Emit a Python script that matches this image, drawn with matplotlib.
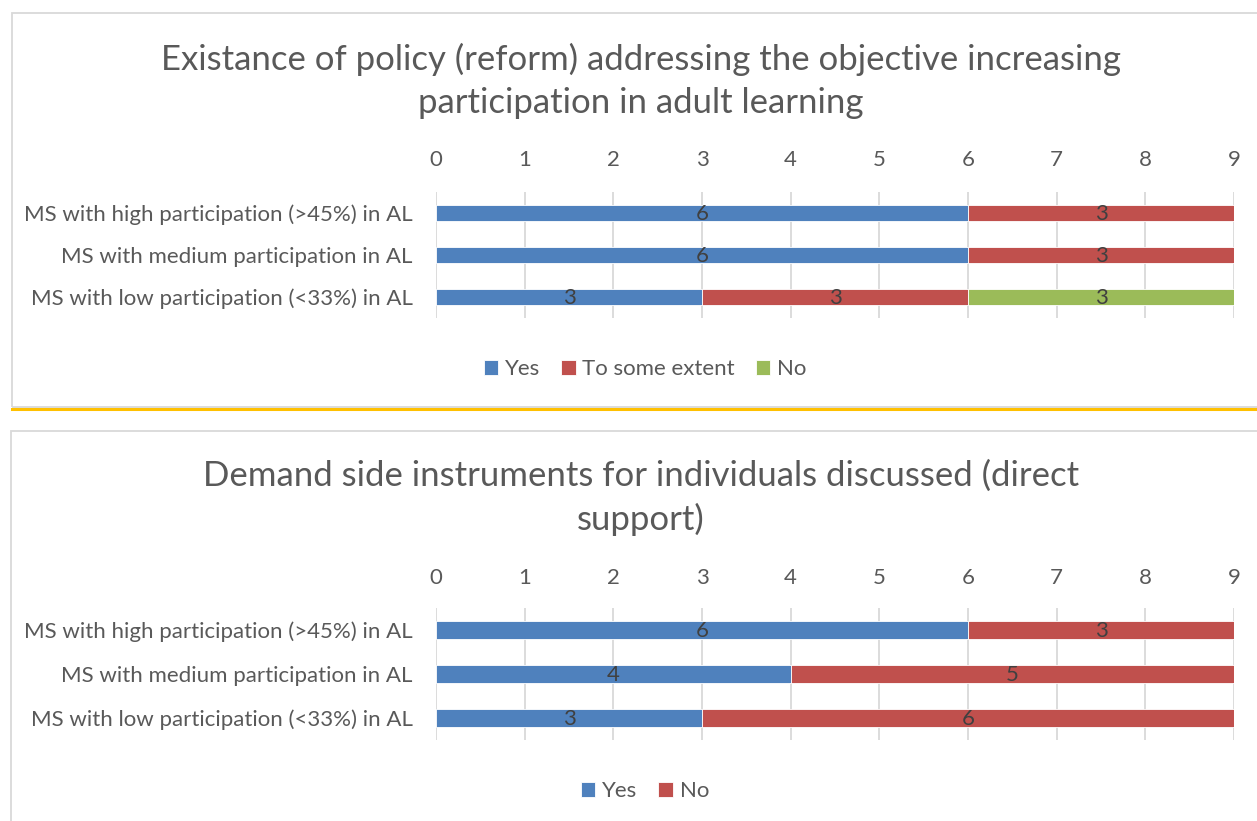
import matplotlib.pyplot as plt
from matplotlib.patches import Rectangle
from matplotlib.lines import Line2D
import numpy as np

plt.rcParams['font.family'] = ['Lato', 'DejaVu Sans']

# categories (top to bottom) and counts of member states
groups = ['MS with high participation (>45%) in AL',
          'MS with medium participation in AL',
          'MS with low participation (<33%) in AL']

policy_names = ['Yes', 'To some extent', 'No']
policy_yes = [6, 6, 3]
policy_some = [3, 3, 3]
policy_no = [0, 0, 3]

demand_names = ['Yes', 'No']
demand_yes = [6, 4, 3]
demand_no = [3, 5, 6]

ticks = list(range(0, 10))

blue = '#4F81BD'
red = '#C0504D'
green = '#9BBB59'
txt = '#595959'
W, H = 1257, 821
fs = 16


def fx(px):
    return px / W


def fy(py):
    return 1 - py / H


def draw_panel(fig, rect, title, series, names, colors, title_y, legend_y, tick_pad):
    l, t, r, b = rect
    ax = fig.add_axes([fx(l), fy(b), fx(r) - fx(l), fy(t) - fy(b)])
    y = np.arange(len(groups))
    left = np.zeros(len(groups))
    for vals, name, c in zip(series, names, colors):
        vals = np.array(vals, dtype=float)
        ax.barh(y, vals, left=left, height=0.39, color=c, edgecolor='#ffffff',
                linewidth=0.6, label=name, zorder=2)
        for yi, v, lf in zip(y, vals, left):
            if v > 0:
                ax.text(lf + v / 2, yi + 0.03, str(int(v)), ha='center', va='center',
                        fontsize=fs, color='#404040', zorder=3)
        left += vals
    ax.set_xlim(0, 9)
    ax.set_ylim(len(groups) - 0.5, -0.5)
    ax.set_yticks(y)
    ax.set_yticklabels(groups, fontsize=fs, color=txt)
    ax.set_xticks(ticks)
    ax.xaxis.tick_top()
    ax.tick_params(axis='x', length=0, pad=tick_pad, labelsize=fs, labelcolor=txt)
    ax.tick_params(axis='y', length=0, pad=17)
    for s in ax.spines.values():
        s.set_visible(False)
    ax.grid(axis='x', color='#D9D9D9', linewidth=1.3, zorder=0)
    ax.set_axisbelow(True)
    fig.text(fx(641), fy(title_y), title, ha='center', va='center',
             fontsize=25, color=txt, linespacing=1.4)
    handles, labels = ax.get_legend_handles_labels()
    fig.legend(handles, labels, loc='center', bbox_to_anchor=(fx(645), fy(legend_y)),
               ncol=len(names), frameon=False, fontsize=fs, labelcolor=txt,
               handlelength=0.65, handleheight=0.65, handletextpad=0.3,
               columnspacing=0.95)
    return ax


fig = plt.figure(figsize=(W / 100, H / 100), dpi=100)

# chart frames and the separator line
fig.patches.append(Rectangle((fx(12), fy(407)), fx(1300) - fx(12), fy(13) - fy(407),
                             transform=fig.transFigure, fill=False,
                             edgecolor='#D9D9D9', linewidth=1.3))
fig.patches.append(Rectangle((fx(11), fy(860)), fx(1300) - fx(11), fy(431) - fy(860),
                             transform=fig.transFigure, fill=False,
                             edgecolor='#D9D9D9', linewidth=1.3))
fig.lines.append(Line2D([fx(12), 1], [fy(409.5), fy(409.5)], transform=fig.transFigure,
                        color='#FFC000', linewidth=2.2))

draw_panel(fig, (436, 192, 1234, 318),
           'Existance of policy (reform) addressing the objective increasing\nparticipation in adult learning',
           [policy_yes, policy_some, policy_no], policy_names, [blue, red, green],
           81, 369, 16)
draw_panel(fig, (436, 608, 1234, 740),
           'Demand side instruments for individuals discussed (direct\nsupport)',
           [demand_yes, demand_no], demand_names, [blue, red],
           498, 791, 14.5)

fig.savefig('out.png', dpi=100)
